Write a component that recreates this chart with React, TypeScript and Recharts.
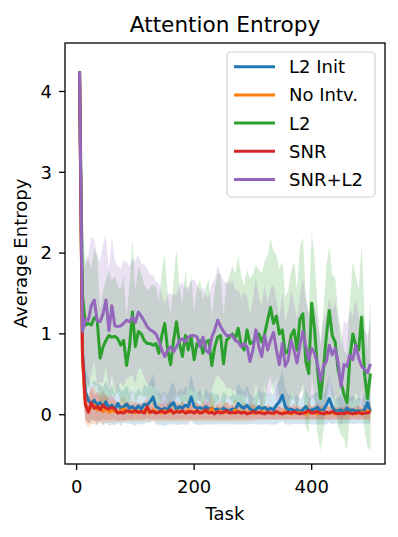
import React from 'react';
import { ComposedChart, Line, Area, XAxis, YAxis } from 'recharts';

const tasks = [
  5, 10, 15, 20, 25, 30, 35, 40, 45, 50,
  55, 60, 65, 70, 75, 80, 85, 90, 95, 100,
  105, 110, 115, 120, 125, 130, 135, 140, 145, 150,
  155, 160, 165, 170, 175, 180, 185, 190, 195, 200,
  205, 210, 215, 220, 225, 230, 235, 240, 245, 250,
  255, 260, 265, 270, 275, 280, 285, 290, 295, 300,
  305, 310, 315, 320, 325, 330, 335, 340, 345, 350,
  355, 360, 365, 370, 375, 380, 385, 390, 395, 400,
  405, 410, 415, 420, 425, 430, 435, 440, 445, 450,
  455, 460, 465, 470, 475, 480, 485, 490, 495, 500,
];

const l2InitMean = [
  4.25, 0.75, 0.28, 0.18, 0.14, 0.18, 0.12, 0.15, 0.10, 0.16,
  0.08, 0.12, 0.06, 0.14, 0.08, 0.10, 0.13, 0.08, 0.10, 0.06,
  0.11, 0.07, 0.13, 0.12, 0.16, 0.22, 0.10, 0.08, 0.06, 0.08,
  0.06, 0.12, 0.15, 0.06, 0.10, 0.08, 0.12, 0.10, 0.22, 0.10,
  0.08, 0.09, 0.06, 0.10, 0.07, 0.08, 0.06, 0.07, 0.05, 0.08,
  0.06, 0.05, 0.07, 0.06, 0.14, 0.10, 0.08, 0.12, 0.07, 0.05,
  0.06, 0.10, 0.07, 0.09, 0.06, 0.08, 0.06, 0.12, 0.16, 0.24,
  0.10, 0.06, 0.07, 0.05, 0.06, 0.04, 0.06, 0.10, 0.05, 0.06,
  0.07, 0.09, 0.05, 0.06, 0.12, 0.20, 0.10, 0.04, 0.05, 0.06,
  0.03, 0.08, 0.05, 0.06, 0.04, 0.05, 0.04, 0.06, 0.15, 0.04,
];
const l2InitStd = [
  0.08, 0.45, 0.32, 0.28, 0.25, 0.24, 0.26, 0.22, 0.24, 0.26,
  0.22, 0.24, 0.19, 0.24, 0.22, 0.20, 0.24, 0.19, 0.22, 0.20,
  0.22, 0.19, 0.24, 0.22, 0.26, 0.29, 0.22, 0.20, 0.19, 0.22,
  0.18, 0.24, 0.26, 0.19, 0.22, 0.20, 0.24, 0.22, 0.29, 0.22,
  0.20, 0.22, 0.18, 0.22, 0.19, 0.20, 0.18, 0.19, 0.16, 0.20,
  0.18, 0.16, 0.19, 0.18, 0.26, 0.22, 0.20, 0.24, 0.19, 0.16,
  0.18, 0.22, 0.19, 0.20, 0.18, 0.20, 0.18, 0.24, 0.26, 0.32,
  0.22, 0.18, 0.19, 0.16, 0.18, 0.15, 0.18, 0.22, 0.16, 0.18,
  0.19, 0.21, 0.16, 0.18, 0.24, 0.30, 0.22, 0.15, 0.16, 0.18,
  0.14, 0.19, 0.16, 0.18, 0.15, 0.16, 0.15, 0.18, 0.26, 0.16,
];

const noIntvMean = [
  4.25, 0.65, 0.15, 0.04, 0.10, 0.12, 0.06, 0.10, 0.04, 0.08,
  0.03, 0.05, 0.04, 0.03, 0.05, 0.07, 0.04, 0.03, 0.05, 0.02,
  0.04, 0.03, 0.05, 0.04, 0.02, 0.06, 0.04, 0.03, 0.02, 0.05,
  0.03, 0.04, 0.02, 0.05, 0.03, 0.04, 0.02, 0.06, 0.03, 0.04,
  0.03, 0.02, 0.05, 0.03, 0.04, 0.08, 0.02, 0.03, 0.05, 0.02,
  0.04, 0.03, 0.02, 0.06, 0.03, 0.02, 0.04, 0.02, 0.03, 0.02,
  0.03, 0.02, 0.04, 0.02, 0.03, 0.02, 0.01, 0.03, 0.02, 0.02,
  0.04, 0.02, 0.01, 0.02, 0.03, 0.02, 0.02, 0.01, 0.03, 0.02,
  0.02, 0.01, 0.03, 0.02, 0.01, 0.02, 0.03, 0.01, 0.02, 0.01,
  0.02, 0.03, 0.01, 0.02, 0.01, 0.02, 0.03, 0.02, 0.04, 0.05,
];
const noIntvStd = [
  0.08, 0.40, 0.26, 0.20, 0.22, 0.24, 0.18, 0.20, 0.16, 0.18,
  0.13, 0.15, 0.13, 0.12, 0.14, 0.16, 0.12, 0.11, 0.14, 0.10,
  0.12, 0.11, 0.13, 0.12, 0.10, 0.14, 0.12, 0.11, 0.10, 0.13,
  0.11, 0.12, 0.10, 0.13, 0.11, 0.12, 0.10, 0.14, 0.11, 0.12,
  0.11, 0.10, 0.13, 0.11, 0.12, 0.16, 0.10, 0.11, 0.13, 0.10,
  0.12, 0.11, 0.10, 0.14, 0.11, 0.10, 0.12, 0.10, 0.11, 0.10,
  0.09, 0.08, 0.10, 0.08, 0.09, 0.08, 0.07, 0.09, 0.08, 0.08,
  0.10, 0.08, 0.07, 0.08, 0.09, 0.08, 0.08, 0.07, 0.09, 0.08,
  0.08, 0.07, 0.09, 0.08, 0.07, 0.08, 0.09, 0.07, 0.08, 0.07,
  0.08, 0.09, 0.07, 0.08, 0.07, 0.08, 0.09, 0.08, 0.10, 0.11,
];

const l2Mean = [
  4.25, 1.48, 1.11, 1.13, 1.11, 1.20, 1.17, 0.70, 0.84, 0.92,
  0.98, 0.96, 0.97, 0.94, 0.86, 0.92, 0.61, 0.84, 1.27, 0.84,
  1.03, 1.00, 0.92, 0.88, 0.88, 0.86, 0.88, 0.76, 0.98, 1.13,
  0.80, 0.62, 0.92, 1.15, 0.88, 0.72, 0.98, 0.80, 0.96, 0.68,
  0.88, 0.92, 0.76, 0.90, 0.92, 0.61, 0.84, 0.96, 0.98, 0.63,
  0.92, 0.96, 1.00, 0.94, 1.07, 0.86, 0.80, 1.05, 0.88, 0.90,
  0.96, 1.00, 0.90, 1.00, 1.17, 1.33, 1.13, 1.22, 1.00, 1.05,
  0.76, 0.78, 0.98, 1.05, 0.80, 1.18, 1.25, 0.66, 0.51, 1.38,
  1.05, 0.55, 0.20, 0.55, 0.98, 1.29, 0.98, 0.90, 0.55, 0.40,
  0.25, 0.15, 0.70, 1.00, 0.86, 0.80, 1.21, 0.50, 0.20, 0.51,
];
const l2Std = [
  0.10, 0.90, 0.75, 0.80, 0.70, 0.85, 0.80, 0.60, 0.70, 0.75,
  0.80, 0.70, 0.75, 0.65, 0.70, 0.80, 0.60, 0.75, 0.90, 0.70,
  0.80, 0.75, 0.70, 0.65, 0.70, 0.75, 0.70, 0.65, 0.80, 0.85,
  0.70, 0.60, 0.75, 0.90, 0.70, 0.65, 0.80, 0.70, 0.75, 0.60,
  0.70, 0.75, 0.65, 0.70, 0.75, 0.60, 0.70, 0.80, 0.75, 0.60,
  0.70, 0.75, 0.85, 0.80, 0.90, 0.85, 0.80, 0.75, 0.80, 0.85,
  0.90, 0.80, 0.85, 0.90, 0.80, 0.85, 0.90, 0.75, 0.80, 0.85,
  0.70, 0.75, 0.80, 0.85, 0.75, 0.90, 0.95, 0.80, 0.75, 0.90,
  0.85, 0.80, 0.65, 0.75, 0.85, 0.80, 0.75, 0.80, 0.70, 0.65,
  0.55, 0.60, 0.70, 0.90, 0.85, 0.75, 0.90, 0.70, 0.60, 0.95,
];

const snrMean = [
  4.25, 0.75, 0.12, 0.03, 0.15, 0.08, 0.10, 0.06, 0.12, 0.08,
  0.07, 0.09, 0.07, 0.02, 0.03, 0.02, 0.05, 0.04, 0.03, 0.05,
  0.03, 0.04, 0.02, 0.10, 0.03, 0.04, 0.02, 0.03, 0.05, 0.02,
  0.04, 0.06, 0.02, 0.04, 0.03, 0.05, 0.02, 0.03, 0.04, 0.02,
  0.05, 0.02, 0.03, 0.06, 0.02, 0.03, 0.01, 0.04, 0.02, 0.03,
  0.05, 0.02, 0.03, 0.02, 0.04, 0.02, 0.03, 0.01, 0.02, 0.04,
  0.02, 0.03, 0.02, 0.01, 0.03, 0.02, 0.02, 0.04, 0.02, 0.01,
  0.02, 0.03, 0.02, 0.04, 0.02, 0.01, 0.02, 0.03, 0.05, 0.02,
  0.03, 0.04, 0.02, 0.01, 0.03, 0.02, 0.04, 0.02, 0.01, 0.02,
  0.01, 0.03, 0.02, 0.01, 0.02, 0.03, 0.01, 0.02, 0.02, 0.04,
];
const snrStd = [
  0.08, 0.35, 0.20, 0.14, 0.20, 0.16, 0.18, 0.14, 0.18, 0.15,
  0.14, 0.15, 0.13, 0.10, 0.10, 0.09, 0.11, 0.10, 0.09, 0.11,
  0.09, 0.10, 0.08, 0.14, 0.09, 0.10, 0.08, 0.09, 0.11, 0.08,
  0.10, 0.12, 0.08, 0.10, 0.09, 0.11, 0.08, 0.09, 0.10, 0.08,
  0.11, 0.08, 0.09, 0.12, 0.08, 0.09, 0.07, 0.10, 0.08, 0.09,
  0.11, 0.08, 0.09, 0.08, 0.10, 0.08, 0.09, 0.07, 0.08, 0.10,
  0.08, 0.09, 0.08, 0.07, 0.09, 0.08, 0.08, 0.10, 0.08, 0.07,
  0.08, 0.09, 0.08, 0.10, 0.08, 0.07, 0.08, 0.09, 0.11, 0.08,
  0.09, 0.10, 0.08, 0.07, 0.09, 0.08, 0.10, 0.08, 0.07, 0.08,
  0.07, 0.09, 0.08, 0.07, 0.08, 0.09, 0.07, 0.08, 0.08, 0.10,
];

const snrL2Mean = [
  4.25, 1.03, 1.18, 1.17, 1.35, 1.42, 1.16, 1.15, 1.25, 1.42,
  1.04, 1.35, 1.10, 1.09, 1.10, 1.13, 1.17, 1.15, 1.21, 1.14,
  1.27, 1.22, 1.16, 1.09, 1.05, 1.03, 1.00, 0.92, 0.80, 0.72,
  0.80, 0.84, 0.78, 0.84, 0.92, 0.94, 0.90, 0.96, 0.98, 0.98,
  0.96, 0.84, 0.96, 0.80, 0.76, 0.96, 1.05, 1.17, 1.09, 1.03,
  0.98, 0.98, 0.98, 0.92, 0.90, 0.84, 0.88, 0.84, 0.66, 0.80,
  1.05, 0.84, 0.72, 0.98, 0.80, 0.92, 1.02, 0.80, 0.62, 0.88,
  0.60, 0.68, 0.92, 0.80, 0.64, 0.86, 1.03, 0.84, 0.68, 0.82,
  0.76, 0.62, 0.42, 0.60, 0.66, 0.86, 0.74, 0.82, 0.64, 0.35,
  0.62, 0.60, 0.74, 0.68, 0.86, 0.70, 0.60, 0.56, 0.52, 0.63,
];
const snrL2Std = [
  0.10, 0.60, 0.75, 0.80, 0.85, 0.75, 0.80, 0.75, 0.85, 0.80,
  0.75, 0.85, 0.80, 0.75, 0.70, 0.78, 0.72, 0.68, 0.72, 0.76,
  0.70, 0.65, 0.70, 0.72, 0.68, 0.70, 0.65, 0.70, 0.68, 0.65,
  0.70, 0.66, 0.70, 0.65, 0.68, 0.70, 0.66, 0.62, 0.68, 0.70,
  0.65, 0.68, 0.62, 0.66, 0.70, 0.65, 0.62, 0.68, 0.65, 0.62,
  0.66, 0.64, 0.68, 0.62, 0.65, 0.60, 0.64, 0.62, 0.58, 0.62,
  0.66, 0.60, 0.64, 0.62, 0.58, 0.64, 0.60, 0.62, 0.58, 0.64,
  0.56, 0.60, 0.64, 0.58, 0.55, 0.60, 0.66, 0.58, 0.55, 0.60,
  0.58, 0.54, 0.50, 0.56, 0.60, 0.58, 0.55, 0.58, 0.52, 0.50,
  0.55, 0.52, 0.56, 0.54, 0.58, 0.52, 0.50, 0.48, 0.46, 0.50,
];

const seriesNames = ['L2 Init', 'No Intv.', 'L2', 'SNR', 'SNR+L2'];
const seriesKeys = ['l2init', 'nointv', 'l2', 'snr', 'snrl2'];
const seriesColors = ['#1f77b4', '#ff7f0e', '#2ca02c', '#d62728', '#9467bd'];
const seriesMeans = [l2InitMean, noIntvMean, l2Mean, snrMean, snrL2Mean];
const seriesStds = [l2InitStd, noIntvStd, l2Std, snrStd, snrL2Std];

const xTicks = [0, 200, 400];
const yTicks = [0, 1, 2, 3, 4];

const data = tasks.map((t, i) => {
  const row: Record<string, any> = { t };
  seriesKeys.forEach((k, s) => {
    const m = seriesMeans[s][i];
    const sd = seriesStds[s][i];
    row[k] = m;
    row[k + 'Band'] = [m - sd, m + sd];
  });
  return row;
});

const FONT = '"DejaVu Sans", sans-serif';
const W = 398;
const H = 537;
const PL = 65;
const PR = 385;
const PT = 43;
const PB = 464;

export default function App() {
  return (
    <div style={{ position: 'absolute', left: 0, top: 0, width: W, height: H, background: '#fff' }}>
      <ComposedChart
        width={W}
        height={H}
        data={data}
        margin={{ top: PT, right: W - PR, left: 0, bottom: 0 }}
      >
        <XAxis
          type="number"
          dataKey="t"
          domain={[-19.75, 524.75]}
          ticks={xTicks}
          allowDataOverflow
          height={H - PB}
          axisLine={false}
          tickSize={6}
          tickMargin={10}
          tickLine={{ stroke: '#000', strokeWidth: 1.3 }}
          tick={{ fill: '#000', fontSize: 18, fontFamily: FONT }}
        />
        <YAxis
          type="number"
          domain={[-0.61, 4.6]}
          ticks={yTicks}
          allowDataOverflow
          width={PL}
          axisLine={false}
          tickSize={6}
          tickMargin={7}
          tickLine={{ stroke: '#000', strokeWidth: 1.3 }}
          tick={{ fill: '#000', fontSize: 18, fontFamily: FONT }}
        />
        {seriesKeys.map((k, s) => (
          <Area
            key={k + 'Band'}
            type="linear"
            dataKey={k + 'Band'}
            stroke="none"
            fill={seriesColors[s]}
            fillOpacity={0.2}
            dot={false}
            activeDot={false}
            isAnimationActive={false}
          />
        ))}
        {seriesKeys.map((k, s) => (
          <Line
            key={k}
            type="linear"
            dataKey={k}
            stroke={seriesColors[s]}
            strokeWidth={3}
            strokeLinejoin="round"
            dot={false}
            activeDot={false}
            isAnimationActive={false}
          />
        ))}
      </ComposedChart>
      <svg
        width={W}
        height={H}
        style={{ position: 'absolute', left: 0, top: 0, pointerEvents: 'none' }}
      >
        <rect x={PL} y={PT} width={PR - PL} height={PB - PT} fill="none" stroke="#000" strokeWidth={1.3} />
        <text x={(PL + PR) / 2} y={31.5} textAnchor="middle" fontSize={21.6} fontFamily={FONT} fill="#000">
          Attention Entropy
        </text>
        <text x={(PL + PR) / 2} y={520} textAnchor="middle" fontSize={18} fontFamily={FONT} fill="#000">
          Task
        </text>
        <text
          transform={`translate(26.5, ${(PT + PB) / 2}) rotate(-90)`}
          textAnchor="middle"
          fontSize={18}
          fontFamily={FONT}
          fill="#000"
        >
          Average Entropy
        </text>
        <rect x={227} y={52} width={148} height={145} rx={4} ry={4} fill="#fff" fillOpacity={0.8} stroke="#d0d0d0" strokeWidth={1.2} />
        {seriesNames.map((name, s) => {
          const cy = 66.7 + s * 28.2;
          return (
            <g key={name}>
              <line x1={234} x2={275} y1={cy} y2={cy} stroke={seriesColors[s]} strokeWidth={3} />
              <text x={289} y={cy + 6.5} fontSize={18} fontFamily={FONT} fill="#000">
                {name}
              </text>
            </g>
          );
        })}
      </svg>
    </div>
  );
}
